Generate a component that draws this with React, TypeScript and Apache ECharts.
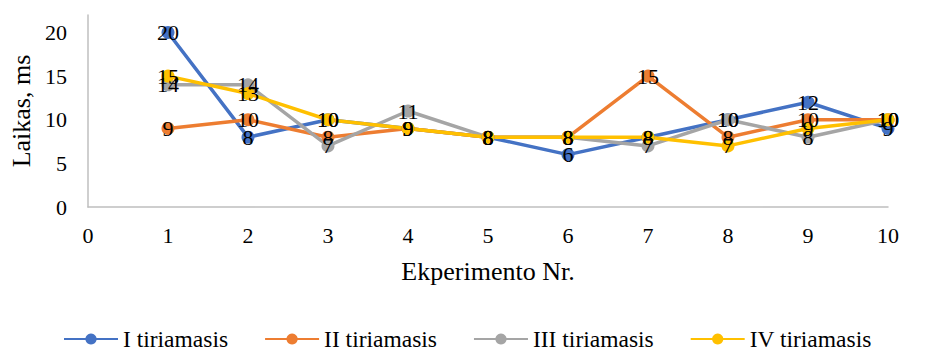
import React, { useEffect, useRef } from "react";
import * as echarts from "echarts";

const experiments = [1, 2, 3, 4, 5, 6, 7, 8, 9, 10];
const seriesNames = ["I tiriamasis", "II tiriamasis", "III tiriamasis", "IV tiriamasis"];
const series1 = [20, 8, 10, 9, 8, 6, 8, 10, 12, 9];
const series2 = [9, 10, 8, 9, 8, 8, 15, 8, 10, 10];
const series3 = [14, 14, 7, 11, 8, 8, 7, 10, 8, 10];
const series4 = [15, 13, 10, 9, 8, 8, 8, 7, 9, 10];
const colors = ["#4472C4", "#ED7D31", "#A5A5A5", "#FFC000"];

const FONT = "Liberation Serif, Times New Roman, serif";

export default function App() {
  const ref = useRef<HTMLDivElement>(null);
  useEffect(() => {
    if (!ref.current) return;
    const chart = echarts.init(ref.current, undefined, { renderer: "svg" });
    const all = [series1, series2, series3, series4];
    chart.setOption({
      animation: false,
      textStyle: { fontFamily: FONT },
      color: colors,
      grid: { left: 88, right: 40, top: 15, bottom: 144, containLabel: false },
      legend: {
        left: 58,
        top: 322,
        itemWidth: 54,
        itemHeight: 14,
        itemGap: 36,
        textStyle: { fontFamily: FONT, fontSize: 23.5, lineHeight: 20, color: "#000" },
        data: seriesNames,
      },
      xAxis: {
        type: "value",
        min: 0,
        max: 10,
        interval: 1,
        name: "Ekperimento Nr.",
        nameLocation: "middle",
        nameGap: 51,
        nameTextStyle: { fontFamily: FONT, fontSize: 26, color: "#000" },
        axisLine: { show: true, lineStyle: { color: "#BFBFBF", width: 1.5 } },
        axisTick: { show: false },
        splitLine: { show: false },
        axisLabel: { fontFamily: FONT, fontSize: 22, color: "#000", margin: 17 },
      },
      yAxis: {
        type: "value",
        min: 0,
        max: 22,
        interval: 5,
        name: "Laikas, ms",
        nameLocation: "middle",
        nameGap: 53,
        nameTextStyle: { fontFamily: FONT, fontSize: 26, color: "#000" },
        axisLine: { show: true, lineStyle: { color: "#BFBFBF", width: 1.5 } },
        axisTick: { show: false },
        splitLine: { show: false },
        axisLabel: { fontFamily: FONT, fontSize: 22, color: "#000", margin: 21, showMaxLabel: false },
      },
      series: all.map((vals, i) => ({
        name: seriesNames[i],
        type: "line",
        data: experiments.map((x, j) => [x, vals[j]]),
        symbol: "circle",
        symbolSize: 13,
        lineStyle: { width: 3.5, color: colors[i] },
        itemStyle: { color: colors[i] },
        label: {
          show: true,
          position: "inside",
          fontFamily: FONT,
          fontSize: 22,
          color: "#000",
          textBorderWidth: 0,
        },
      })),
    });
    return () => chart.dispose();
  }, []);
  return (
    <div
      ref={ref}
      style={{ position: "fixed", left: 0, top: 0, width: 928, height: 351, background: "#fff" }}
    />
  );
}
